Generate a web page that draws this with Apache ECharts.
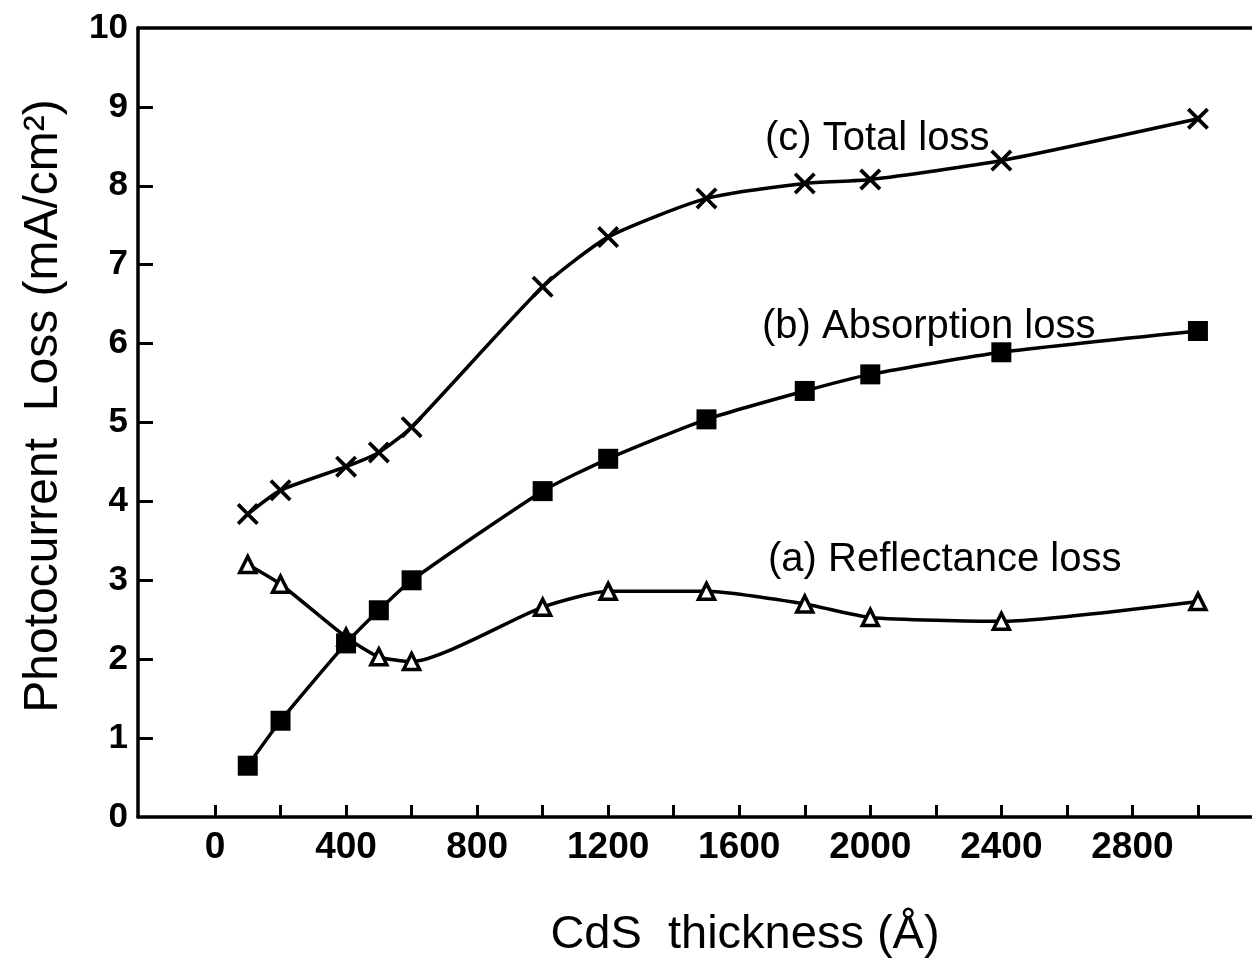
<!DOCTYPE html>
<html>
<head>
<meta charset="utf-8">
<script src="https://cdn.jsdelivr.net/npm/echarts@6/dist/echarts.min.js"></script>
<style>
  html, body { margin: 0; padding: 0; background: #fff; }
  #chart { width: 1252px; height: 961px; }
</style>
</head>
<body>
<div id="chart"></div>
<script>
// CdS thickness (Å) at which each loss was evaluated
const thickness = [100, 200, 400, 500, 600, 1000, 1200, 1500, 1800, 2000, 2400, 3000];

// Photocurrent loss (mA/cm²)
const reflectanceLoss = [3.20, 2.95, 2.28, 2.03, 1.97, 2.66, 2.86, 2.86, 2.70, 2.53, 2.48, 2.73];
const absorptionLoss  = [0.65, 1.22, 2.20, 2.62, 3.00, 4.13, 4.54, 5.04, 5.40, 5.61, 5.89, 6.16];
const totalLoss       = [3.84, 4.14, 4.44, 4.62, 4.94, 6.72, 7.35, 7.84, 8.03, 8.08, 8.32, 8.85];

// Axis ticks and labels
const xTickValues  = [0, 200, 400, 600, 800, 1000, 1200, 1400, 1600, 1800, 2000, 2200, 2400, 2600, 2800, 3000];
const xLabelValues = [0, 400, 800, 1200, 1600, 2000, 2400, 2800];
const yTickValues  = [0, 1, 2, 3, 4, 5, 6, 7, 8, 9, 10];

const curveNames = ['(a) Reflectance loss', '(b) Absorption loss', '(c) Total loss'];

const pair = (ys) => thickness.map((x, i) => [x, ys[i]]);

const FONT = 'Liberation Sans, Arial, Helvetica, sans-serif';
const crossPath = 'path://M12,0L50,38L88,0L100,12L62,50L100,88L88,100L50,62L12,100L0,88L38,50L0,12Z';

const chart = echarts.init(document.getElementById('chart'), null, { renderer: 'canvas' });

const lineBase = {
  type: 'line',
  smooth: 0.2,
  lineStyle: { color: '#000', width: 3.5 },
  z: 3
};

chart.setOption({
  animation: false,
  backgroundColor: '#fff',
  grid: { left: 138, right: 0, top: 28, bottom: 144, containLabel: false },
  xAxis: [{
    type: 'value',
    min: -235,
    max: 3165,
    axisLine: { show: true, onZero: false, lineStyle: { color: '#000', width: 3.5 } },
    axisTick: { show: true, inside: true, length: 12, customValues: xTickValues, lineStyle: { color: '#000', width: 3 } },
    axisLabel: {
      customValues: xLabelValues, color: '#000', fontFamily: FONT, fontSize: 37, fontWeight: 'bold', margin: 12,
      formatter: (v) => String(v)
    },
    splitLine: { show: false }
  }, {
    type: 'value',
    position: 'top',
    min: -235,
    max: 3165,
    axisLine: { show: true, onZero: false, lineStyle: { color: '#000', width: 3.5 } },
    axisTick: { show: false },
    axisLabel: { show: false },
    splitLine: { show: false }
  }],
  yAxis: {
    type: 'value',
    min: 0,
    max: 10,
    axisLine: { show: true, onZero: false, lineStyle: { color: '#000', width: 3.5 } },
    axisTick: { show: true, inside: true, length: 15, customValues: yTickValues.slice(1, -1), lineStyle: { color: '#000', width: 3 } },
    axisLabel: {
      customValues: yTickValues, color: '#000', fontFamily: FONT, fontSize: 35, fontWeight: 'bold', margin: 10,
      formatter: (v) => String(v)
    },
    splitLine: { show: false }
  },
  series: [
    Object.assign({}, lineBase, {
      name: curveNames[0],
      data: pair(reflectanceLoss),
      symbol: 'triangle',
      symbolSize: 16,
      itemStyle: { color: '#fff', borderColor: '#000', borderWidth: 3.5 }
    }),
    Object.assign({}, lineBase, {
      name: curveNames[1],
      data: pair(absorptionLoss),
      symbol: 'rect',
      symbolSize: 20,
      itemStyle: { color: '#000', borderColor: '#000', borderWidth: 0 }
    }),
    Object.assign({}, lineBase, {
      name: curveNames[2],
      data: pair(totalLoss),
      symbol: crossPath,
      symbolSize: 22,
      itemStyle: { color: '#000', borderWidth: 0 }
    })
  ],
  graphic: [
    { type: 'text', left: 765, top: 119,
      style: { text: curveNames[2], font: '40px ' + FONT, fill: '#000' } },
    { type: 'text', left: 762, top: 307,
      style: { text: curveNames[1], font: '40px ' + FONT, fill: '#000' } },
    { type: 'text', left: 768, top: 540,
      style: { text: curveNames[0], font: '40px ' + FONT, fill: '#000' } },
    { type: 'text', x: 745, y: 935,
      style: { text: 'CdS  thickness (Å)', font: '47px ' + FONT, fill: '#000', textAlign: 'center', textVerticalAlign: 'middle' } },
    { type: 'text', x: 44, y: 406, rotation: Math.PI / 2,
      style: { text: 'Photocurrent  Loss (mA/cm²)', font: '48px ' + FONT, fill: '#000', textAlign: 'center', textVerticalAlign: 'middle' } }
  ]
});
</script>
</body>
</html>
